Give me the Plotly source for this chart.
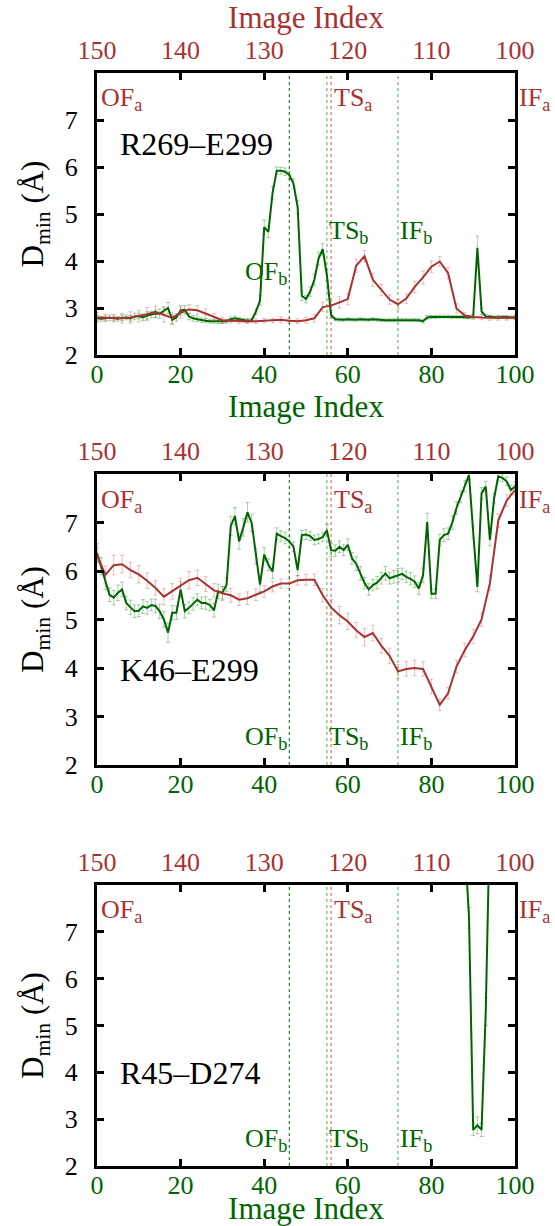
import plotly.graph_objects as go

# ---------------- data ----------------
image_index_b = list(range(0, 101))          # bottom axis (green, path b)
image_index_a = list(range(150, 99, -1))     # top axis (red, path a)

# Panel 1: R269-E299
p1_green = [2.78, 2.77, 2.78, 2.79, 2.78, 2.77, 2.79, 2.80, 2.78, 2.82,
            2.83, 2.80, 2.84, 2.86, 2.88, 2.88, 2.94, 3.00, 2.75, 2.80,
            2.95, 2.96, 2.82, 2.78, 2.76, 2.74, 2.73, 2.72, 2.72, 2.71,
            2.71, 2.72, 2.76, 2.78, 2.76, 2.74, 2.73, 2.74, 2.92, 3.16,
            4.72, 4.62, 5.45, 5.92, 5.92, 5.90, 5.83, 5.65, 5.15, 3.26,
            3.19, 3.35, 3.60, 4.05, 4.25, 3.70, 2.85, 2.76, 2.75, 2.75,
            2.76, 2.75, 2.75, 2.76, 2.75, 2.75, 2.76, 2.75, 2.74, 2.74,
            2.74, 2.74, 2.75, 2.75, 2.75, 2.74, 2.75, 2.74, 2.72, 2.80,
            2.81, 2.81, 2.82, 2.82, 2.82, 2.81, 2.81, 2.81, 2.81, 2.80,
            2.82, 4.28, 2.93, 2.82, 2.81, 2.80, 2.80, 2.81, 2.80, 2.80,
            2.80]
p1_green_err = [0.06, 0.05, 0.05, 0.06, 0.05, 0.05, 0.06, 0.05, 0.06, 0.07,
                0.06, 0.07, 0.08, 0.07, 0.08, 0.10, 0.09, 0.12, 0.10, 0.08,
                0.10, 0.09, 0.07, 0.06, 0.05, 0.05, 0.04, 0.04, 0.04, 0.04,
                0.04, 0.04, 0.05, 0.05, 0.04, 0.04, 0.04, 0.04, 0.06, 0.10,
                0.15, 0.12, 0.14, 0.08, 0.07, 0.08, 0.08, 0.10, 0.14, 0.10,
                0.08, 0.10, 0.12, 0.14, 0.12, 0.12, 0.06, 0.03, 0.03, 0.03,
                0.03, 0.03, 0.03, 0.03, 0.03, 0.03, 0.03, 0.03, 0.03, 0.03,
                0.03, 0.03, 0.03, 0.03, 0.03, 0.03, 0.03, 0.03, 0.04, 0.04,
                0.03, 0.03, 0.03, 0.03, 0.03, 0.03, 0.03, 0.03, 0.03, 0.03,
                0.04, 0.25, 0.06, 0.04, 0.03, 0.03, 0.03, 0.03, 0.03, 0.03,
                0.03]
p1_red = [2.80, 2.79, 2.78, 2.78, 2.80, 2.83, 2.87, 2.92, 2.85, 2.79,
          2.90, 2.97, 2.95, 2.88, 2.80, 2.74, 2.73, 2.72, 2.72, 2.72,
          2.73, 2.73, 2.75, 2.73, 2.72, 2.74, 2.78, 3.02, 3.05, 3.12,
          3.19, 3.90, 4.10, 3.60, 3.38, 3.18, 3.08, 3.20, 3.45, 3.65,
          3.88, 3.99, 3.74, 2.99, 2.84, 2.81, 2.80, 2.79, 2.79, 2.79,
          2.80]
p1_red_err = [0.10, 0.08, 0.08, 0.10, 0.12, 0.12, 0.14, 0.12, 0.15, 0.12,
              0.12, 0.10, 0.10, 0.10, 0.08, 0.06, 0.05, 0.05, 0.05, 0.05,
              0.05, 0.05, 0.06, 0.05, 0.05, 0.06, 0.08, 0.10, 0.10, 0.12,
              0.12, 0.14, 0.12, 0.14, 0.12, 0.10, 0.10, 0.10, 0.12, 0.14,
              0.12, 0.10, 0.12, 0.10, 0.06, 0.05, 0.05, 0.05, 0.05, 0.05,
              0.05]

# Panel 2: K46-E299
p2_green = [6.37, 6.10, 5.78, 5.51, 5.45, 5.55, 5.62, 5.34, 5.25, 5.17,
            5.18, 5.27, 5.24, 5.30, 5.28, 5.17, 5.00, 4.73, 5.14, 5.14,
            5.62, 5.17, 5.24, 5.32, 5.41, 5.34, 5.34, 5.30, 5.19, 5.58,
            5.55, 5.72, 6.93, 7.13, 6.61, 6.90, 7.21, 6.99, 6.30, 5.72,
            6.34, 6.13, 5.99, 6.77, 6.72, 6.68, 6.61, 6.50, 6.02, 6.74,
            6.75, 6.72, 6.64, 6.66, 6.70, 6.84, 6.43, 6.42, 6.50, 6.43,
            6.54, 6.26, 6.15, 5.95, 5.75, 5.62, 5.71, 5.76, 5.85, 5.95,
            5.85, 5.88, 5.91, 5.94, 5.88, 5.84, 5.78, 5.64, 5.91, 7.01,
            5.53, 5.53, 6.64, 6.74, 6.77, 7.00, 7.30, 7.53, 7.75, 7.98,
            6.80, 5.67, 7.60, 7.74, 6.64, 7.50, 7.95, 7.92, 7.85, 7.67,
            7.74]
p2_green_err = [0.20, 0.18, 0.16, 0.14, 0.15, 0.16, 0.15, 0.14, 0.15, 0.13,
                0.12, 0.14, 0.13, 0.12, 0.14, 0.15, 0.16, 0.20, 0.15, 0.14,
                0.16, 0.14, 0.12, 0.13, 0.12, 0.12, 0.13, 0.12, 0.14, 0.15,
                0.13, 0.14, 0.20, 0.18, 0.16, 0.18, 0.20, 0.18, 0.16, 0.15,
                0.14, 0.12, 0.14, 0.12, 0.11, 0.12, 0.11, 0.10, 0.12, 0.10,
                0.10, 0.09, 0.10, 0.10, 0.09, 0.12, 0.14, 0.12, 0.12, 0.11,
                0.12, 0.12, 0.14, 0.14, 0.12, 0.12, 0.12, 0.13, 0.12, 0.14,
                0.12, 0.13, 0.14, 0.12, 0.12, 0.13, 0.12, 0.12, 0.15, 0.18,
                0.10, 0.10, 0.12, 0.13, 0.12, 0.14, 0.13, 0.12, 0.12, 0.10,
                0.12, 0.10, 0.12, 0.11, 0.12, 0.10, 0.09, 0.08, 0.09, 0.10,
                0.10]
p2_red = [6.33, 5.92, 6.12, 6.14, 6.02, 5.93, 5.80, 5.65, 5.47, 5.58,
          5.70, 5.81, 5.86, 5.73, 5.60, 5.54, 5.50, 5.41, 5.44, 5.51,
          5.58, 5.68, 5.74, 5.74, 5.81, 5.82, 5.82, 5.50, 5.25, 5.09,
          4.96, 4.78, 4.64, 4.72, 4.46, 4.25, 3.93, 3.98, 4.00, 3.98,
          3.62, 3.24, 3.48, 4.03, 4.37, 4.65, 5.00, 5.75, 7.04, 7.45,
          7.67]
p2_red_err = [0.15, 0.18, 0.20, 0.18, 0.16, 0.18, 0.16, 0.15, 0.17, 0.16,
              0.15, 0.18, 0.16, 0.15, 0.14, 0.15, 0.14, 0.12, 0.13, 0.12,
              0.12, 0.11, 0.10, 0.10, 0.10, 0.11, 0.12, 0.14, 0.16, 0.18,
              0.17, 0.16, 0.18, 0.16, 0.15, 0.16, 0.14, 0.15, 0.16, 0.15,
              0.15, 0.12, 0.12, 0.13, 0.14, 0.15, 0.14, 0.15, 0.14, 0.12,
              0.10]

# Panel 3: R45-D274 (only a short stretch of path b lies inside the window)
p3_index_b = image_index_b[87:96]
p3_green = [10.50, 9.00, 7.30, 2.77, 2.87, 2.77, 5.30, 9.50, 11.00]
p3_green_err = [0.10, 0.12, 0.22, 0.12, 0.18, 0.14, 0.30, 0.12, 0.10]

pair_names = ["R269\u2013E299", "K46\u2013E299", "R45\u2013D274"]

# state positions: path b on bottom axis, path a on top axis
state_b_x = [46, 55, 72]        # OF_b, TS_b, IF_b
state_a_x = [150, 122, 100]     # OF_a, TS_a, IF_a

x_ticks_b = [0, 20, 40, 60, 80, 100]
x_ticks_a = [150, 140, 130, 120, 110, 100]
y_ticks = [2, 3, 4, 5, 6, 7]

# ---------------- style ----------------
RED = "#a83232"
GREEN = "#006400"
FONT = "Liberation Serif, Times New Roman, DejaVu Serif, serif"
TICK_SIZE = 26
TITLE_SIZE = 31
LABEL_SIZE = 26
PAIR_SIZE = 32

W, H = 555, 1226
x_dom = [97 / W, 515 / W]
y_doms = [[1 - 355 / H, 1 - 73 / H],
          [1 - 765 / H, 1 - 474 / H],
          [1 - 1166 / H, 1 - 885 / H]]

panels = [
    dict(green_x=image_index_b, green=p1_green, green_err=p1_green_err,
         red=p1_red, red_err=p1_red_err),
    dict(green_x=image_index_b, green=p2_green, green_err=p2_green_err,
         red=p2_red, red_err=p2_red_err),
    dict(green_x=p3_index_b, green=p3_green, green_err=p3_green_err,
         red=None, red_err=None),
]

fig = go.Figure()
layout = {}
shapes = []
annotations = []

for i, p in enumerate(panels):
    n = i + 1
    xb = "x" if n == 1 else f"x{n}"
    xt = f"x{n + 3}"
    yy = "y" if n == 1 else f"y{n}"
    xb_key = "xaxis" if n == 1 else f"xaxis{n}"
    xt_key = f"xaxis{n + 3}"
    y_key = "yaxis" if n == 1 else f"yaxis{n}"

    if p["red"] is not None:
        fig.add_trace(go.Scatter(
            x=image_index_a, y=p["red"], xaxis=xt, yaxis=yy, mode="lines",
            line=dict(color=RED, width=2),
            error_y=dict(type="data", array=p["red_err"], visible=True,
                         color="rgba(200,70,70,0.35)", thickness=1, width=2),
            showlegend=False, hoverinfo="skip"))
    fig.add_trace(go.Scatter(
        x=p["green_x"], y=p["green"], xaxis=xb, yaxis=yy, mode="lines",
        line=dict(color=GREEN, width=2),
        error_y=dict(type="data", array=p["green_err"], visible=True,
                     color="rgba(0,130,0,0.35)", thickness=1, width=2),
        showlegend=False, hoverinfo="skip"))

    layout[xb_key] = dict(
        domain=x_dom, anchor=yy, range=[0, 100], tickvals=x_ticks_b,
        ticks="inside", ticklen=7, tickwidth=3, tickcolor="black",
        showline=True, linewidth=3, linecolor="black", mirror="ticks",
        showgrid=False, zeroline=False, ticklabelstandoff=-6, automargin=False,
        tickfont=dict(family=FONT, size=TICK_SIZE, color=GREEN),
        title=dict(text="Image Index" if n in (1, 3) else "",
                   font=dict(family=FONT, size=TITLE_SIZE, color=GREEN),
                   standoff=0),
    )
    layout[xt_key] = dict(
        overlaying=xb, anchor=yy, side="top", range=[150, 100],
        tickvals=x_ticks_a, ticks="", showline=False, showgrid=False,
        zeroline=False, ticklabelstandoff=8, automargin=False,
        tickfont=dict(family=FONT, size=TICK_SIZE, color=RED),
        title=dict(text="Image Index" if n == 1 else "",
                   font=dict(family=FONT, size=TITLE_SIZE, color=RED),
                   standoff=0),
    )
    layout[y_key] = dict(
        domain=y_doms[i], anchor=xb, range=[2, 8], tickvals=y_ticks,
        ticks="inside", ticklen=7, tickwidth=3, tickcolor="black",
        showline=True, linewidth=3, linecolor="black", mirror="ticks",
        showgrid=False, zeroline=False, ticklabelstandoff=11, automargin=False,
        tickfont=dict(family=FONT, size=TICK_SIZE, color="black"),
        title=dict(text="D<sub>min</sub> (Å)",
                   font=dict(family=FONT, size=TITLE_SIZE, color="black"),
                   standoff=12),
    )

    # vertical state markers
    for k, xv in enumerate(state_b_x):
        shapes.append(dict(type="line", xref=xb, yref=f"{yy} domain",
                           x0=xv, x1=xv, y0=0, y1=1, layer="below",
                           line=dict(color=GREEN if k == 0 else "rgba(0,150,0,0.75)",
                                     width=1, dash="dot")))
    shapes.append(dict(type="line", xref=xt, yref=f"{yy} domain",
                       x0=state_a_x[1], x1=state_a_x[1], y0=0, y1=1, layer="below",
                       line=dict(color="rgba(200,40,40,0.8)", width=1, dash="dot")))

    # state labels
    top_y = 7.45
    bot_y = [3.74, 2.55, 2.55][i]
    ts_y = [4.62, 2.55, 2.55][i]
    for name, xv, xs in zip(["OF<sub>a</sub>", "TS<sub>a</sub>", "IF<sub>a</sub>"],
                            state_a_x, [2, 1, 2]):
        annotations.append(dict(text=name, x=xv, y=top_y, xref=xt, yref=yy,
                                xanchor="left", yanchor="middle", xshift=xs,
                                showarrow=False,
                                font=dict(family=FONT, size=LABEL_SIZE, color=RED)))
    annotations.append(dict(text="OF<sub>b</sub>", x=state_b_x[0], y=bot_y,
                            xref=xb, yref=yy, xanchor="right", yanchor="middle",
                            showarrow=False,
                            font=dict(family=FONT, size=LABEL_SIZE, color=GREEN)))
    for name, xv in zip(["TS<sub>b</sub>", "IF<sub>b</sub>"], state_b_x[1:]):
        annotations.append(dict(text=name, x=xv, y=ts_y, xref=xb, yref=yy,
                                xanchor="left", yanchor="middle",
                                showarrow=False,
                                font=dict(family=FONT, size=LABEL_SIZE, color=GREEN)))
    annotations.append(dict(text=pair_names[i], x=5, y=[6.5, 3.96, 3.98][i],
                            xref=xb, yref=yy, xanchor="left", yanchor="middle",
                            showarrow=False,
                            font=dict(family=FONT, size=PAIR_SIZE, color="black")))

fig.update_layout(
    template="none",
    width=W, height=H,
    margin=dict(l=0, r=0, t=0, b=0, pad=0),
    paper_bgcolor="white", plot_bgcolor="white",
    showlegend=False,
    font=dict(family=FONT),
    shapes=shapes, annotations=annotations,
    **layout,
)

fig.write_html("out.html")
